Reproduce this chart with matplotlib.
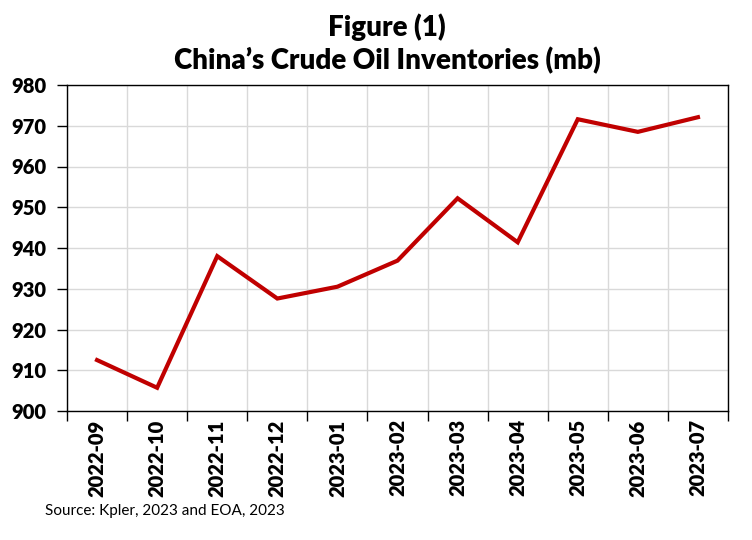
import matplotlib
matplotlib.use("Agg")
import matplotlib.pyplot as plt
from matplotlib.ticker import FixedLocator, NullFormatter, FixedFormatter

months = ["2022-09", "2022-10", "2022-11", "2022-12", "2023-01", "2023-02",
          "2023-03", "2023-04", "2023-05", "2023-06", "2023-07"]
inventories = [912.5, 905.7, 938.0, 927.6, 930.5, 936.9,
               952.2, 941.4, 971.6, 968.5, 972.1]
yticks = [900, 910, 920, 930, 940, 950, 960, 970, 980]

title_line1 = "Figure (1)"
title_line2 = "China\u2019s Crude Oil Inventories (mb)"
source_text = "Source: Kpler, 2023 and EOA, 2023"

plt.rcParams['font.family'] = ['Lato', 'DejaVu Sans']

fig = plt.figure(figsize=(7.52, 5.40), dpi=100)
ax = fig.add_axes([67/752, 1-411/540, (728-67)/752, (411-85)/540])

x = list(range(len(months)))
ax.plot(x, inventories, color="#C00000", linewidth=3.0, solid_joinstyle="miter", zorder=3)

ax.set_xlim(-0.5, len(months) - 0.5)
ax.set_ylim(yticks[0], yticks[-1])
ax.set_yticks(yticks)
ax.set_yticklabels([str(v) for v in yticks], fontsize=14.5, fontweight="heavy")

bounds = [i - 0.5 for i in range(len(months) + 1)]
ax.xaxis.set_major_locator(FixedLocator(bounds))
ax.xaxis.set_major_formatter(NullFormatter())
ax.xaxis.set_minor_locator(FixedLocator(x))
ax.xaxis.set_minor_formatter(FixedFormatter(months))
ax.tick_params(axis="x", which="minor", length=0, labelsize=14.5, labelrotation=90, pad=6)
for lab in ax.get_xticklabels(minor=True):
    lab.set_fontweight("heavy")
ax.tick_params(axis="x", which="major", length=7, width=1, color="black", direction="out")
ax.tick_params(axis="y", length=7, width=1, direction="out", pad=8)

ax.grid(True, which="major", color="#d9d9d9", linewidth=1.0, zorder=0)
ax.set_axisbelow(True)
for s in ax.spines.values():
    s.set_color("black")
    s.set_linewidth(1.0)

fig.text(387/752, 1-27/540, title_line1, ha="center", va="center", fontsize=20, fontweight="heavy")
fig.text(387/752, 1-61/540, title_line2, ha="center", va="center", fontsize=20, fontweight="heavy")
fig.text(45/752, 1-511/540, source_text, ha="left", va="center", fontsize=11)

fig.savefig("out.png", dpi=100)
